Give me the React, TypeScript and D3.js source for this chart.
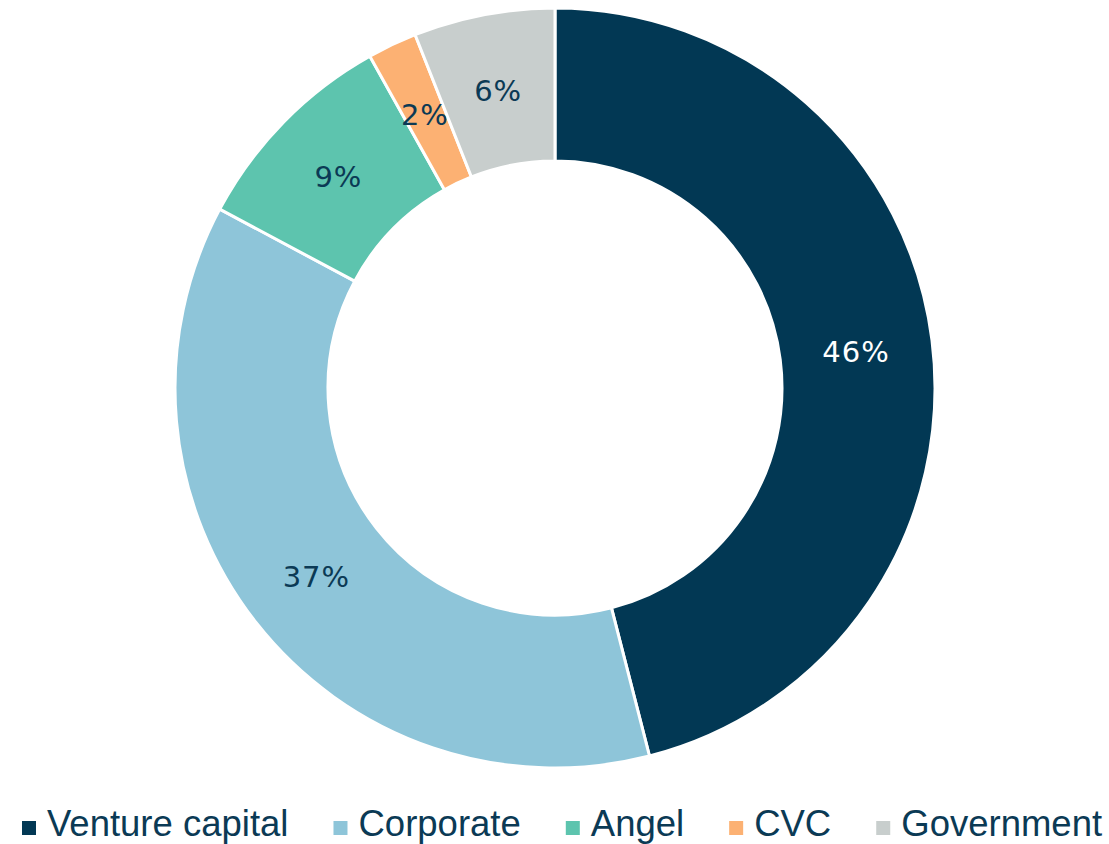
import React, { useEffect, useRef } from "react";
import * as d3 from "d3";

const categories = ["Venture capital", "Corporate", "Angel", "CVC", "Government"];
const shares = [46.0, 36.8, 9.1, 2.1, 6.0];
const valueLabels = ["46%", "37%", "9%", "2%", "6%"];
const colors = ["#023854", "#8EC5D9", "#5DC4AE", "#FCB173", "#C8CECD"];
const labelColors = ["#ffffff", "#0B3A55", "#0B3A55", "#0B3A55", "#0B3A55"];

const width = 1109;
const height = 844;
const center = { x: 555, y: 388 };
const outerRadius = 380;
const innerRadius = 227;

export default function App() {
  const ref = useRef<SVGSVGElement>(null);

  useEffect(() => {
    const svg = d3.select(ref.current);
    svg.selectAll("*").remove();

    const data = categories.map((c, i) => ({ name: c, value: shares[i], i }));
    const pie = d3
      .pie<any>()
      .value((d) => d.value)
      .sort(null);
    const arc = d3.arc<any>().innerRadius(innerRadius).outerRadius(outerRadius);
    const arcs = pie(data);

    const g = svg
      .append("g")
      .attr("transform", `translate(${center.x}, ${center.y})`);

    g.selectAll("path")
      .data(arcs)
      .join("path")
      .attr("d", arc)
      .attr("fill", (d) => colors[d.data.i])
      .attr("stroke", "#ffffff")
      .attr("stroke-width", 3);

    g.selectAll("text")
      .data(arcs)
      .join("text")
      .attr("transform", (d) => `translate(${arc.centroid(d)})`)
      .attr("text-anchor", "middle")
      .attr("dy", "0.4em")
      .attr("font-family", "'DejaVu Sans', sans-serif")
      .attr("font-size", 29)
      .attr("letter-spacing", 1)
      .attr("fill", (d) => labelColors[d.data.i])
      .text((d) => valueLabels[d.data.i]);

    // legend, laid out from measured text widths
    const legend = svg.append("g").attr("transform", "translate(22, 836)");
    const items = legend
      .selectAll("g")
      .data(data)
      .join("g");
    items
      .append("rect")
      .attr("width", 14)
      .attr("height", 14)
      .attr("y", -15)
      .attr("fill", (d) => colors[d.i]);
    items
      .append("text")
      .attr("x", 25)
      .attr("font-family", "'Liberation Sans Narrow', 'Arial Narrow', sans-serif")
      .attr("font-size", 36.5)
      .attr("fill", "#0B3A55")
      .text((d) => d.name);

    let x = 0;
    items.each(function () {
      const item = d3.select(this);
      const tw = (item.select("text").node() as SVGTextElement).getComputedTextLength();
      item.attr("transform", `translate(${x}, 0)`);
      x += 25 + tw + 45;
    });
  }, []);

  return (
    <svg
      ref={ref}
      width={width}
      height={height}
      style={{ position: "absolute", left: 0, top: 0, background: "#ffffff" }}
    />
  );
}
